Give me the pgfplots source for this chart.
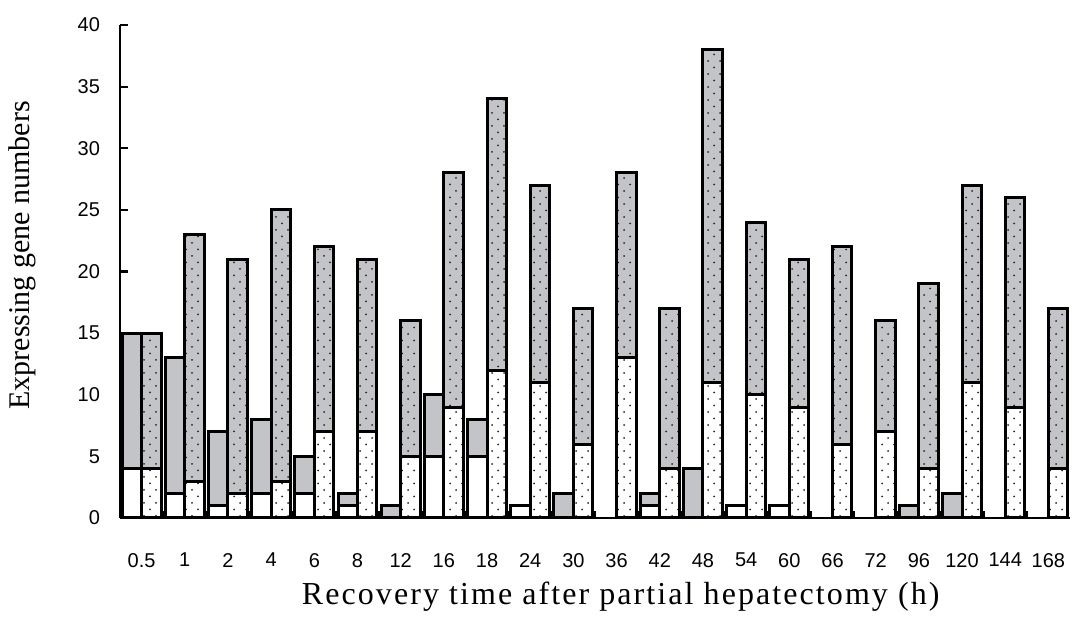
\documentclass[border=0pt]{standalone}
\usepackage{fontspec}
\setmainfont{Liberation Sans}
\newfontfamily\serifx{Liberation Serif}
\newfontfamily\serifsp[LetterSpace=6.5]{Liberation Serif}
\usepackage{pgfplots}
\usepackage{pgfplotstable}
\pgfplotsset{compat=1.18}
\usetikzlibrary{patterns}
\definecolor{barg}{RGB}{195,196,200}
\pgfdeclarepatternformonly{sparsedots}{\pgfqpoint{-0.6pt}{-0.6pt}}{\pgfqpoint{6.6pt}{7.1pt}}{\pgfqpoint{6pt}{6.5pt}}{%
  \pgfpathcircle{\pgfqpoint{0pt}{0pt}}{0.5pt}%
  \pgfpathcircle{\pgfqpoint{3pt}{3.25pt}}{0.5pt}%
  \pgfusepath{fill}}

\pgfplotstableread{
i  Lb Lt Rb Rt
0  4  15 4  15
1  2  13 3  23
2  1  7  2  21
3  2  8  3  25
4  2  5  7  22
5  1  2  7  21
6  0  1  5  16
7  5  10 9  28
8  5  8  12 34
9  1  1  11 27
10 0  2  6  17
11 0  0  13 28
12 1  2  4  17
13 0  4  11 38
14 1  1  10 24
15 1  1  9  21
16 0  0  6  22
17 0  0  7  16
18 0  1  4  19
19 0  2  11 27
20 0  0  9  26
21 0  0  4  17
}\data

\begin{document}
\begin{tikzpicture}
\useasboundingbox (0,0) rectangle (537.5pt,310pt);
\begin{axis}[
  at={(60pt,51pt)}, anchor=south west,
  scale only axis, width=475pt, height=246.5pt,
  xmin=-0.5, xmax=21.5, ymin=0, ymax=40,
  axis x line*=bottom, axis y line*=left,
  axis line style={-, line width=1.3pt, black},
  tick align=inside,
  xtick={0,...,21},
  xticklabels={0.5,1,2,4,6,8,12,16,18,24,30,36,42,48,54,60,66,72,96,120,144,168},
  minor xtick={0.5,1.5,...,20.5},
  major x tick style={draw=none},
  minor x tick style={line width=1.1pt, black},
  minor tick length=3.5pt,
  ytick={0,5,...,40},
  major tick length=4pt,
  y tick style={line width=1.1pt, black},
  /pgf/number format/assume math mode=true,
  tick label style={font=\fontsize{10}{12}\selectfont},
  xticklabel style={yshift=-14pt},
  yticklabel style={xshift=-6.5pt},
  xlabel={\serifsp\fontsize{16}{19}\selectfont Recovery time after partial hepatectomy (h)},
  ylabel={\serifx\fontsize{15}{18}\selectfont Expressing gene numbers},
  xlabel style={at={(axis description cs:0.527,-0.16)}, anchor=center},
  ylabel style={at={(axis description cs:-0.103,0.533)}, anchor=center},
  unbounded coords=discard,
  y filter/.expression={y==0 ? nan : y},
  clip=false,
]
\addplot[ybar, bar width=0.45, bar shift=-0.225, fill=barg, draw=black, line width=1.5pt] table[x=i, y=Lt] {\data};
\addplot[ybar, bar width=0.45, bar shift=-0.225, fill=white, draw=black, line width=1.5pt] table[x=i, y=Lb] {\data};
\addplot[ybar, bar width=0.45, bar shift=0.225, fill=barg, draw=black, line width=1.5pt, postaction={pattern=sparsedots, pattern color=black!85}] table[x=i, y=Rt] {\data};
\addplot[ybar, bar width=0.45, bar shift=0.225, fill=white, draw=black, line width=1.5pt, postaction={pattern=sparsedots, pattern color=black!85}] table[x=i, y=Rb] {\data};
\end{axis}
\end{tikzpicture}
\end{document}
